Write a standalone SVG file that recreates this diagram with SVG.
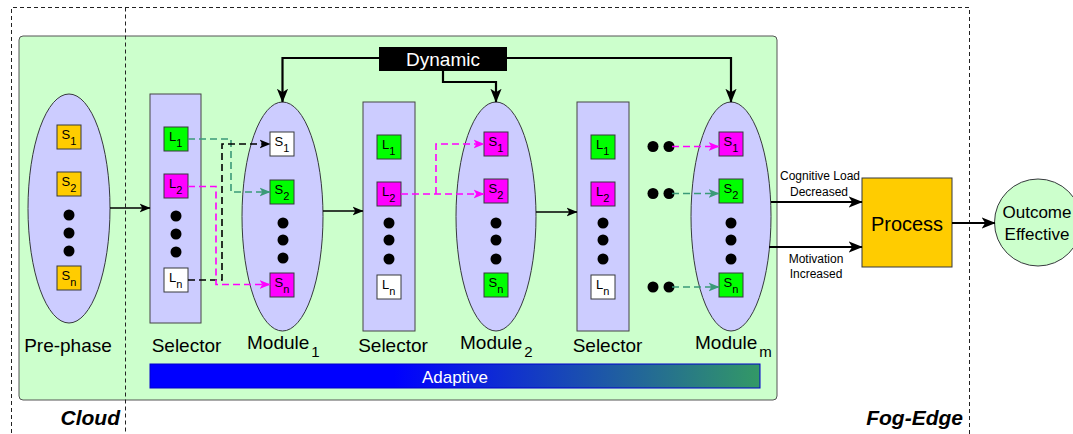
<svg xmlns="http://www.w3.org/2000/svg" width="1073" height="434" viewBox="0 0 1073 434">
<defs>
<style>
text{font-family:"Liberation Sans",Arial,sans-serif;fill:#000}
.zone{fill:none;stroke:#222;stroke-width:1;stroke-dasharray:4 3}
.bg{fill:#ccffcc;stroke:#555;stroke-width:1}
.ell{fill:#ccccff;stroke:#36393d;stroke-width:1}
.sel{fill:#ccccff;stroke:#444;stroke-width:1}
.bx{stroke:#36393d;stroke-width:1}
.o{fill:#ffcc00}.g{fill:#00ff00}.m{fill:#ff00ff}.w{fill:#ffffff}
.lt{font-size:13px}
.sub{font-size:11px}
.dot{fill:#000}
.lbl{font-size:19px}
.lsub{font-size:15px}
.small{font-size:12px;text-anchor:middle}
.zl{font-size:21px;font-weight:bold;font-style:italic;text-anchor:end}
.line{fill:none;stroke:#000;stroke-width:1.3}
.thick{fill:none;stroke:#000;stroke-width:2.2}
.dg{fill:none;stroke:#3a9a78;stroke-width:1.6;stroke-dasharray:7 4}
.dm{fill:none;stroke:#ff00ff;stroke-width:1.6;stroke-dasharray:7 4}
.dk{fill:none;stroke:#000;stroke-width:1.6;stroke-dasharray:7 4}
</style>
<marker id="ak" viewBox="0 0 10 10" refX="9.5" refY="5" markerWidth="11" markerHeight="11" markerUnits="userSpaceOnUse" orient="auto"><path d="M0,1 L10,5 L0,9 L2.5,5 z" fill="#000"/></marker>
<marker id="akb" viewBox="0 0 10 10" refX="9.5" refY="5" markerWidth="14" markerHeight="14" markerUnits="userSpaceOnUse" orient="auto"><path d="M0,1 L10,5 L0,9 L2.5,5 z" fill="#000"/></marker>
<marker id="ag" viewBox="0 0 10 10" refX="9.5" refY="5" markerWidth="11" markerHeight="11" markerUnits="userSpaceOnUse" orient="auto"><path d="M0,1 L10,5 L0,9 L2.5,5 z" fill="#3a9a78"/></marker>
<marker id="am" viewBox="0 0 10 10" refX="9.5" refY="5" markerWidth="11" markerHeight="11" markerUnits="userSpaceOnUse" orient="auto"><path d="M0,1 L10,5 L0,9 L2.5,5 z" fill="#ff00ff"/></marker>
<linearGradient id="ad" x1="0" y1="0" x2="1" y2="0">
<stop offset="0" stop-color="#0000ff"/>
<stop offset="0.4" stop-color="#0000ff"/>
<stop offset="1" stop-color="#339966"/>
</linearGradient>
</defs>

<rect class="bg" x="19" y="36" width="758" height="364" rx="4"/>
<g id="zones">
<path class="zone" d="M11.5,440 V7.5 H969.5 V440"/>
<path class="zone" d="M125.5,7.5 V440"/>
<text class="zl" x="120" y="425">Cloud</text>
<text class="zl" x="963" y="425">Fog-Edge</text>
</g>

<g id="prephase">
<ellipse class="ell" cx="69" cy="208.5" rx="41" ry="114.5"/>
<rect class="bx o" x="57" y="125" width="24" height="24"/><text class="lt" x="61.5" y="139">S<tspan class="sub" dy="6">1</tspan></text>
<rect class="bx o" x="57" y="172" width="24" height="24"/><text class="lt" x="61.5" y="186">S<tspan class="sub" dy="6">2</tspan></text>
<circle class="dot" cx="69" cy="215" r="5.5"/><circle class="dot" cx="69" cy="233" r="5.5"/><circle class="dot" cx="69" cy="251" r="5.5"/>
<rect class="bx o" x="57" y="266" width="24" height="24"/><text class="lt" x="61.5" y="280">S<tspan class="sub" dy="6">n</tspan></text>
<text class="lbl" x="68" y="352" text-anchor="middle">Pre-phase</text>
</g>

<g id="selector1">
<rect class="sel" x="150" y="94" width="51" height="229"/>
<rect class="bx g" x="164" y="127" width="24" height="24"/><text class="lt" x="169" y="141">L<tspan class="sub" dy="6">1</tspan></text>
<rect class="bx m" x="164" y="174" width="24" height="24"/><text class="lt" x="169" y="188">L<tspan class="sub" dy="6">2</tspan></text>
<circle class="dot" cx="176" cy="216" r="5.5"/><circle class="dot" cx="176" cy="234" r="5.5"/><circle class="dot" cx="176" cy="252" r="5.5"/>
<rect class="bx w" x="164" y="268" width="24" height="24"/><text class="lt" x="169" y="282">L<tspan class="sub" dy="6">n</tspan></text>
<text class="lbl" x="186.5" y="352" text-anchor="middle">Selector</text>
</g>

<g id="module1">
<ellipse class="ell" cx="282.5" cy="216.5" rx="40.5" ry="114.5"/>
<rect class="bx w" x="270" y="132" width="24" height="24"/><text class="lt" x="274.5" y="146">S<tspan class="sub" dy="6">1</tspan></text>
<rect class="bx g" x="270" y="180" width="24" height="24"/><text class="lt" x="274.5" y="194">S<tspan class="sub" dy="6">2</tspan></text>
<circle class="dot" cx="283" cy="223" r="5.5"/><circle class="dot" cx="283" cy="240" r="5.5"/><circle class="dot" cx="283" cy="258" r="5.5"/>
<rect class="bx m" x="270" y="273" width="24" height="24"/><text class="lt" x="274.5" y="287">S<tspan class="sub" dy="6">n</tspan></text>
<text class="lbl" x="247" y="349">Module<tspan class="lsub" dx="2" dy="8">1</tspan></text>
</g>

<g id="selector2">
<rect class="sel" x="363" y="102" width="52" height="229"/>
<rect class="bx g" x="377" y="135" width="24" height="24"/><text class="lt" x="382" y="149">L<tspan class="sub" dy="6">1</tspan></text>
<rect class="bx m" x="377" y="182" width="24" height="24"/><text class="lt" x="382" y="196">L<tspan class="sub" dy="6">2</tspan></text>
<circle class="dot" cx="389" cy="223" r="5.5"/><circle class="dot" cx="389" cy="240" r="5.5"/><circle class="dot" cx="389" cy="259" r="5.5"/>
<rect class="bx w" x="377" y="275" width="24" height="24"/><text class="lt" x="382" y="289">L<tspan class="sub" dy="6">n</tspan></text>
<text class="lbl" x="393" y="352" text-anchor="middle">Selector</text>
</g>

<g id="module2">
<ellipse class="ell" cx="496" cy="216.5" rx="40" ry="114.5"/>
<rect class="bx m" x="484" y="132" width="24" height="24"/><text class="lt" x="488.5" y="146">S<tspan class="sub" dy="6">1</tspan></text>
<rect class="bx m" x="484" y="179" width="24" height="24"/><text class="lt" x="488.5" y="193">S<tspan class="sub" dy="6">2</tspan></text>
<circle class="dot" cx="496" cy="223" r="5.5"/><circle class="dot" cx="496" cy="240" r="5.5"/><circle class="dot" cx="496" cy="259" r="5.5"/>
<rect class="bx g" x="484" y="273" width="24" height="24"/><text class="lt" x="488.5" y="287">S<tspan class="sub" dy="6">n</tspan></text>
<text class="lbl" x="460" y="349">Module<tspan class="lsub" dx="2" dy="8">2</tspan></text>
</g>

<g id="selector3">
<rect class="sel" x="577" y="102" width="52" height="229"/>
<rect class="bx g" x="591" y="135" width="24" height="24"/><text class="lt" x="596" y="149">L<tspan class="sub" dy="6">1</tspan></text>
<rect class="bx m" x="591" y="182" width="24" height="24"/><text class="lt" x="596" y="196">L<tspan class="sub" dy="6">2</tspan></text>
<circle class="dot" cx="603" cy="223" r="5.5"/><circle class="dot" cx="603" cy="240" r="5.5"/><circle class="dot" cx="603" cy="259" r="5.5"/>
<rect class="bx w" x="591" y="275" width="24" height="24"/><text class="lt" x="596" y="289">L<tspan class="sub" dy="6">n</tspan></text>
<text class="lbl" x="607.5" y="352" text-anchor="middle">Selector</text>
</g>

<g id="gapdots">
<circle class="dot" cx="653" cy="146.5" r="5.5"/><circle class="dot" cx="669" cy="146.5" r="5.5"/>
<circle class="dot" cx="653" cy="193.5" r="5.5"/><circle class="dot" cx="669" cy="193.5" r="5.5"/>
<circle class="dot" cx="653" cy="287" r="5.5"/><circle class="dot" cx="669" cy="287" r="5.5"/>
</g>

<g id="modulem">
<ellipse class="ell" cx="731" cy="216.5" rx="40" ry="114.5"/>
<rect class="bx m" x="719" y="132" width="24" height="24"/><text class="lt" x="723.5" y="146">S<tspan class="sub" dy="6">1</tspan></text>
<rect class="bx g" x="719" y="179" width="24" height="24"/><text class="lt" x="723.5" y="193">S<tspan class="sub" dy="6">2</tspan></text>
<circle class="dot" cx="731" cy="223" r="5.5"/><circle class="dot" cx="731" cy="240" r="5.5"/><circle class="dot" cx="731" cy="259" r="5.5"/>
<rect class="bx g" x="719" y="273" width="24" height="24"/><text class="lt" x="723.5" y="287">S<tspan class="sub" dy="6">n</tspan></text>
<text class="lbl" x="695" y="349">Module<tspan class="lsub" dx="2" dy="8">m</tspan></text>
</g>

<g id="dynamic">
<rect x="379" y="47" width="128" height="24" fill="#000"/>
<text x="443" y="66" font-size="19" text-anchor="middle" style="fill:#fff">Dynamic</text>
</g>

<g id="adaptive">
<rect x="150" y="364" width="610" height="24" fill="url(#ad)" stroke="#0000cc" stroke-width="1"/>
<text x="455" y="383" font-size="17" text-anchor="middle" style="fill:#fff">Adaptive</text>
</g>

<g id="process">
<rect x="862" y="178" width="90" height="89" fill="#ffcc00" stroke="#36393d" stroke-width="1"/>
<text x="907" y="231" font-size="20" text-anchor="middle">Process</text>
</g>

<g id="outcome">
<circle cx="1038" cy="222.5" r="43.5" fill="#ccffcc" stroke="#36393d" stroke-width="1"/>
<text x="1037" y="218" font-size="17" text-anchor="middle">Outcome</text>
<text x="1037" y="240" font-size="17" text-anchor="middle">Effective</text>
</g>

<g id="connectors">
<path class="line" d="M110,208 H150" marker-end="url(#ak)"/>
<path class="line" d="M323,211 H363" marker-end="url(#ak)"/>
<path class="line" d="M536,212 H577" marker-end="url(#ak)"/>
<path class="thick" d="M771,202 H862" marker-end="url(#akb)"/>
<path class="thick" d="M769,247 H862" marker-end="url(#akb)"/>
<path class="thick" d="M952,223 H995" marker-end="url(#akb)"/>
<path class="thick" d="M379,58 H282.5 V102" marker-end="url(#akb)"/>
<path class="thick" d="M443,71 V82 H496 V102" marker-end="url(#akb)"/>
<path class="thick" d="M507,58 H731 V102" marker-end="url(#akb)"/>
<path class="dg" d="M188,139 H231 V192 H270" marker-end="url(#ag)"/>
<path class="dk" d="M188,280 H222 V144 H270" marker-end="url(#ak)"/>
<path class="dm" d="M188,186.5 H216 V284.5 H270" marker-end="url(#am)"/>
<path class="dm" d="M401,194 H484" marker-end="url(#am)"/>
<path class="dm" d="M436,194 V144 H484" marker-end="url(#am)"/>
<path class="dm" d="M672,146.5 H719" marker-end="url(#am)"/>
<path class="dg" d="M672,193.5 H719" marker-end="url(#ag)"/>
<path class="dg" d="M672,287 H719" marker-end="url(#ag)"/>
<text class="small" x="820" y="180">Cognitive Load</text>
<text class="small" x="819" y="196">Decreased</text>
<text class="small" x="816" y="263">Motivation</text>
<text class="small" x="816" y="278">Increased</text>
</g>
</svg>
